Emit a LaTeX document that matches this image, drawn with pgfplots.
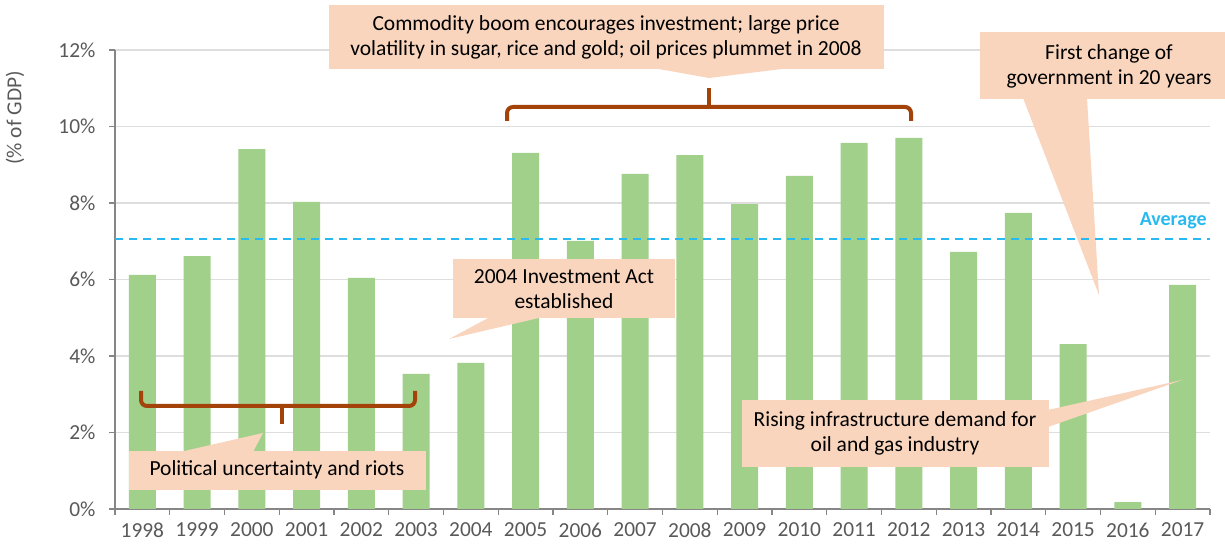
\documentclass[border=0pt]{standalone}
\usepackage{pgfplots}
\pgfplotsset{compat=1.18}
\usepackage{fontspec}
\setmainfont{Carlito}
\definecolor{barcol}{RGB}{161,208,139}
\definecolor{peach}{RGB}{249,213,190}
\definecolor{brownc}{RGB}{163,67,10}
\definecolor{avgc}{RGB}{40,185,240}
\definecolor{txtgray}{RGB}{89,89,89}
\definecolor{axgray}{RGB}{134,134,134}
\definecolor{gridc}{RGB}{222,222,222}
\begin{document}
\fontsize{10.75pt}{12.5pt}\selectfont
\begin{tikzpicture}
\useasboundingbox (0,0) rectangle (612.5pt,272pt);
\begin{axis}[
  at={(57.5pt,17.5pt)}, anchor=south west,
  scale only axis, width=547.5pt, height=229.5pt,
  xmin=-0.5, xmax=19.5, ymin=0, ymax=12,
  axis x line*=bottom, axis y line*=left,
  axis line style={draw=axgray, line width=0.7pt},
  ybar, bar width=0.49, bar shift=0pt,
  xtick={0,...,19},
  xticklabels={1998,1999,2000,2001,2002,2003,2004,2005,2006,2007,2008,2009,2010,2011,2012,2013,2014,2015,2016,2017},
  major x tick style={draw=none},
  minor xtick={-0.5,0.5,...,19.5},
  minor x tick style={draw=axgray, line width=0.7pt},
  minor tick length=3pt,
  ytick={0,2,...,12},
  yticklabel={\pgfmathprintnumber{\tick}\%},
  yticklabel style={xshift=-3pt},
  y tick style={draw=axgray, line width=0.7pt},
  major tick length=3pt,
  tick align=outside,
  ymajorgrids, grid style={draw=gridc, line width=0.6pt},
  /pgf/number format/assume math mode=true,
  tick label style={font=\fontsize{10.7pt}{12pt}\selectfont, text=txtgray},
  ylabel={(\% of GDP)},
  ylabel style={at={(rel axis cs:-0.0913,0.852)}, anchor=center, text=txtgray, font=\fontsize{10.7pt}{12pt}\selectfont},
]
\addplot[fill=barcol, draw=none] coordinates {
(0,6.12) (1,6.61) (2,9.41) (3,8.03) (4,6.04) (5,3.53) (6,3.82) (7,9.31) (8,7.01) (9,8.76)
(10,9.25) (11,7.97) (12,8.71) (13,9.57) (14,9.70) (15,6.72) (16,7.74) (17,4.31) (18,0.18) (19,5.86)};
\end{axis}
\begin{scope}[shift={(0,272pt)}, x=0.5pt, y=-0.5pt]
  % Commodity boom
  \fill[peach] (329,5) rectangle (884,69);
  \fill[peach] (653,68) -- (709,78) -- (790,68) -- cycle;
  \node[align=center, inner sep=0pt] at (606,37) {Commodity boom encourages investment; large price\\volatility in sugar, rice and gold; oil prices plummet in 2008};
  \draw[brownc, line width=2pt, rounded corners=3pt] (507,121) -- (507,107) -- (911,107) -- (911,121);
  \draw[brownc, line width=2pt] (709,108) -- (709,88);
  % Political
  \fill[peach] (129,451) rectangle (426,490);
  \fill[peach] (180,452) -- (263,433) -- (253,452) -- cycle;
  \node[inner sep=0pt] at (277,470) {Political uncertainty and riots};
  \draw[brownc, line width=2pt, rounded corners=3pt] (141,391) -- (141,406) -- (415,406) -- (415,391);
  \draw[brownc, line width=2pt] (282,405) -- (282,424);
  % Investment Act
  \fill[peach] (453,259) rectangle (675,318);
  \fill[peach] (490,317) -- (449,339) -- (543,317) -- cycle;
  \node[align=center, inner sep=0pt] at (564,289) {2004 Investment Act\\established};
  % First change
  \fill[peach] (980,32) rectangle (1225,99);
  \fill[peach] (1023,98) -- (1099,295) -- (1087,98) -- cycle;
  \node[align=center, inner sep=0pt] at (1109,66) {First change of\\government in 20 years};
  % Rising infrastructure
  \fill[peach] (742,400) rectangle (1049,467);
  \fill[peach] (1048,410) -- (1182,380) -- (1048,427) -- cycle;
  \node[align=center, inner sep=0pt] at (895,433) {Rising infrastructure demand for\\oil and gas industry};
  % Average label
  \node[anchor=east, inner sep=0pt, text=avgc, font=\bfseries\fontsize{10pt}{12pt}\selectfont] at (1207,221) {Average};
\end{scope}
\begin{axis}[
  at={(57.5pt,17.5pt)}, anchor=south west,
  scale only axis, width=547.5pt, height=229.5pt,
  xmin=-0.5, xmax=19.5, ymin=0, ymax=12, hide axis,
]
\addplot[avgc, line width=1pt, dash pattern=on 4pt off 3pt] coordinates {(-0.5,7.06) (19.5,7.06)};
\end{axis}
\end{tikzpicture}
\end{document}
